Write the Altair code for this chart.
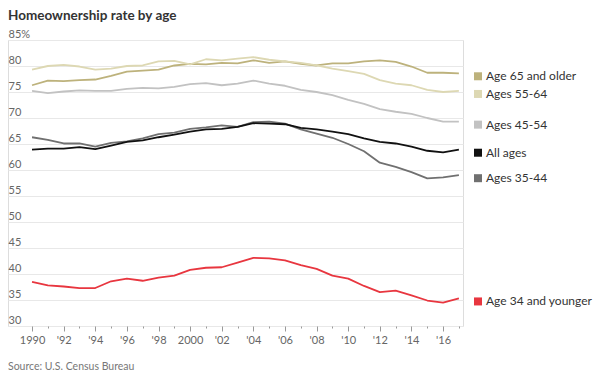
import altair as alt
import pandas as pd

years = list(range(1990, 2018))

age_65_plus = [76.3, 77.2, 77.1, 77.3, 77.4, 78.1, 78.9, 79.1, 79.3, 80.1, 80.4, 80.3, 80.6, 80.5,
               81.1, 80.6, 80.9, 80.4, 80.1, 80.5, 80.5, 80.9, 81.1, 80.8, 79.9, 78.7, 78.7, 78.6]
age_55_64 = [79.3, 80.0, 80.2, 79.9, 79.3, 79.5, 80.0, 80.1, 80.9, 81.0, 80.3, 81.3, 81.1, 81.4,
             81.7, 81.2, 80.9, 80.6, 80.1, 79.5, 79.0, 78.5, 77.3, 76.6, 76.3, 75.4, 75.0, 75.2]
age_45_54 = [75.2, 74.8, 75.1, 75.3, 75.2, 75.2, 75.6, 75.8, 75.7, 76.0, 76.5, 76.7, 76.3, 76.6,
             77.2, 76.6, 76.2, 75.4, 75.0, 74.4, 73.5, 72.7, 71.7, 71.2, 70.8, 70.0, 69.3, 69.3]
age_35_44 = [66.3, 65.8, 65.1, 65.1, 64.5, 65.2, 65.5, 66.1, 66.9, 67.2, 67.9, 68.2, 68.6, 68.3,
             69.2, 69.3, 68.9, 67.8, 67.0, 66.2, 65.0, 63.6, 61.4, 60.6, 59.6, 58.4, 58.6, 59.0]
all_ages = [63.9, 64.1, 64.1, 64.4, 64.0, 64.7, 65.4, 65.7, 66.3, 66.8, 67.4, 67.8, 67.9, 68.3,
            69.0, 68.9, 68.8, 68.1, 67.8, 67.4, 66.9, 66.1, 65.4, 65.1, 64.5, 63.7, 63.4, 63.9]
age_under_35 = [38.5, 37.8, 37.6, 37.3, 37.3, 38.6, 39.1, 38.7, 39.3, 39.7, 40.8, 41.2, 41.3, 42.2,
                43.1, 43.0, 42.6, 41.7, 41.0, 39.7, 39.1, 37.7, 36.5, 36.8, 35.9, 34.9, 34.5, 35.3]

series_names = ["Age 65 and older", "Ages 55-64", "Ages 45-54", "Ages 35-44", "All ages",
                "Age 34 and younger"]
series_values = [age_65_plus, age_55_64, age_45_54, age_35_44, all_ages, age_under_35]
series_colors = ["#bdb27c", "#ddd8b3", "#c2c2c2", "#707070", "#111111", "#e8363f"]

y_ticks = [30, 35, 40, 45, 50, 55, 60, 65, 70, 75, 80, 85]

rows = []
for order, (name, vals) in enumerate(zip(series_names, series_values)):
    for yr, v in zip(years, vals):
        rows.append({"year": yr, "rate": v, "series": name, "order": order})
df = pd.DataFrame(rows)
last = df[df["year"] == years[-1]].copy()

W, H = 455, 286
FONT = "Lato"

x_scale = alt.Scale(domain=[1988.48, 2017.26], nice=False, zero=False)
y_scale = alt.Scale(domain=[30, 85], nice=False, zero=False)
color_scale = alt.Scale(domain=series_names, range=series_colors)

y_axis = alt.Axis(values=y_ticks, grid=True, gridColor="#e8e8e8", gridWidth=1,
                  domain=False, ticks=False, tickSize=0,
                  labelAlign="left", labelBaseline="alphabetic", labelPadding=0,
                  labelOffset=-3, labelOverlap=False, labelBound=False,
                  labelExpr="datum.value == 85 ? '85%' : datum.label",
                  labelFont=FONT, labelFontSize=11, labelColor="#666666")

lines = alt.Chart(df).mark_line(strokeWidth=1.8, strokeJoin="round").encode(
    x=alt.X("year:Q", scale=x_scale, title=None,
            axis=alt.Axis(values=years, grid=False, domain=False,
                          tickColor="#999999", tickWidth=1,
                          tickSize={"condition": {"test": "datum.value % 2 == 0", "value": 5}, "value": 2},
                          labelExpr="datum.value % 2 == 0 ? ((datum.value == 1990 || datum.value == 2000) ? '' + datum.value : \"'\" + substring('' + datum.value, 2, 4)) : ''",
                          labelFont=FONT, labelFontSize=11, labelColor="#666666",
                          labelPadding=3, labelFlush=False, labelOverlap=False)),
    y=alt.Y("rate:Q", scale=y_scale, title=None, axis=y_axis),
    color=alt.Color("series:N", scale=color_scale, legend=None),
    detail="series:N",
    order=alt.Order("order:Q"),
)

legend_sq = alt.Chart(last).mark_point(shape="square", filled=True, size=64, opacity=1).encode(
    x=alt.value(470),
    y=alt.Y("rate:Q", scale=y_scale, title=None, axis=y_axis),
    yOffset=alt.value(3),
    color=alt.Color("series:N", scale=color_scale, legend=None),
)

legend_txt = alt.Chart(last).mark_text(align="left", baseline="middle", dy=3, font=FONT,
                                       fontSize=12, color="#333333").encode(
    x=alt.value(478),
    y=alt.Y("rate:Q", scale=y_scale, title=None, axis=y_axis),
    text="series:N",
)

source = alt.Chart(pd.DataFrame({"t": ["Source: U.S. Census Bureau"]})).mark_text(
    align="left", baseline="middle", font=FONT, fontSize=10.5, color="#777777"
).encode(x=alt.value(0), y=alt.value(H + 41), text="t:N")

chart = alt.layer(lines, legend_sq, legend_txt, source).properties(
    width=W, height=H,
    title=alt.TitleParams("Homeownership rate by age", anchor="start", frame="group",
                          font=FONT, fontSize=13.5, fontWeight="bold", color="#333333",
                          offset=6),
    autosize=alt.AutoSizeParams(type="none"),
    padding={"left": 0, "top": 32, "right": 141, "bottom": 46},
).configure_view(stroke="transparent", strokeWidth=0).configure(background="white")

chart.save("out.html", embed_options={"renderer": "svg", "actions": False})
